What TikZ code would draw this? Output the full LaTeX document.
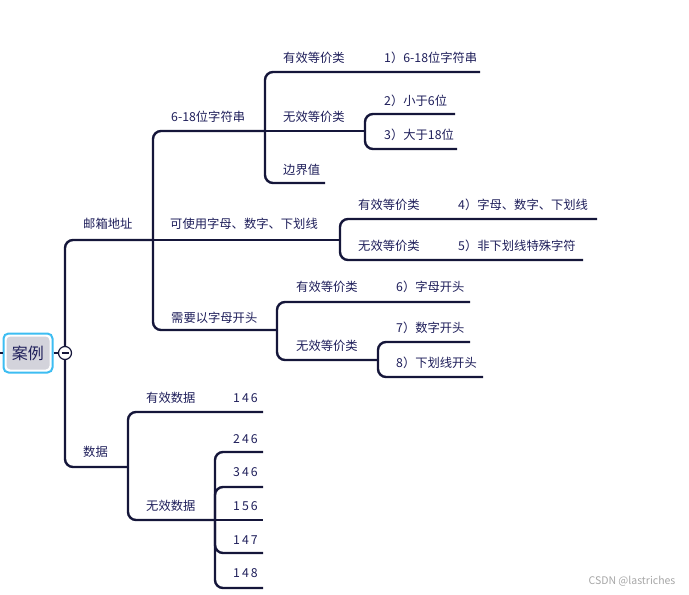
\documentclass[tikz,border=0pt]{standalone}
\usepackage{fontspec}
\setmainfont{Noto Sans CJK SC}
\definecolor{linec}{HTML}{15163A}
\definecolor{txtc}{HTML}{1E1E5A}
\definecolor{rootblue}{HTML}{3DBDF2}
\definecolor{rootgrey}{HTML}{D3D3DB}
\newcommand{\fsz}{\fontsize{12.3}{14}\selectfont}
\tikzset{
  br/.style={draw=linec, line width=2.4pt, rounded corners=8pt},
  lbl/.style={anchor=west, inner sep=0pt, text=txtc, font=\fsz},
}
\begin{document}
\begin{tikzpicture}[x=1pt,y=-1pt]
\useasboundingbox (0,0) rectangle (689,595);
% junction coordinates
\coordinate (J0) at (65,353);
\coordinate (E1) at (153,240);
\coordinate (E2) at (128,467);
\coordinate (A1) at (265,131);
\coordinate (A2) at (340,240);
\coordinate (A3) at (277,330);
\coordinate (B1) at (365,131);
\coordinate (B2) at (378,360);
\coordinate (B3) at (215,520);
% leaf ends
\coordinate (L1) at (480,72);
\coordinate (L2) at (455,114);
\coordinate (L3) at (457,149);
\coordinate (Lb) at (325,183);
\coordinate (L4) at (597,219);
\coordinate (L5) at (583,260);
\coordinate (L6) at (470,302);
\coordinate (L7) at (470,342);
\coordinate (L8) at (483,377);
\coordinate (D1) at (263,412);
\coordinate (D2) at (263,452);
\coordinate (D3) at (263,487);
\coordinate (D4) at (263,520);
\coordinate (D5) at (263,553);
\coordinate (D6) at (263,588);
% branches
\draw[br] (J0) |- (E1);
\draw[br] (J0) |- (E2);
\draw[br] (E1) |- (A1);
\draw[br] (E1) -- (A2);
\draw[br] (E1) |- (A3);
\draw[br] (A1) |- (L1);
\draw[br] (A1) -- (B1);
\draw[br] (A1) |- (Lb);
\draw[br] (B1) |- (L2);
\draw[br] (B1) |- (L3);
\draw[br] (A2) |- (L4);
\draw[br] (A2) |- (L5);
\draw[br] (A3) |- (L6);
\draw[br] (A3) |- (B2);
\draw[br] (B2) |- (L7);
\draw[br] (B2) |- (L8);
\draw[br] (E2) |- (D1);
\draw[br] (E2) |- (B3);
\draw[br] (B3) |- (D2);
\draw[br] (B3) |- (D3);
\draw[br] (B3) -- (D4);
\draw[br] (B3) |- (D5);
\draw[br] (B3) |- (D6);
% root
\node[draw=rootblue, line width=2pt, fill=white, rounded corners=5pt, minimum width=49pt, minimum height=39pt, inner sep=0pt] (rootout) at (28,353) {};
\node[fill=rootgrey, rounded corners=4pt, minimum width=43pt, minimum height=33pt, inner sep=0pt, text=txtc, font=\fontsize{16}{18}\selectfont] (root) at (28,353) {案例};
\coordinate (lt) at (0,353);
\draw[linec, line width=1.5pt] (lt) -- (rootout.west);
\node[circle, draw=linec, fill=white, line width=1.2pt, minimum size=13pt, inner sep=0pt] (fold) at (J0) {};
\draw[linec, line width=1.5pt] (rootout.east) -- (fold.west);
\draw[linec, line width=1.2pt] ([xshift=-3.5pt]fold.center) -- ([xshift=3.5pt]fold.center);
% labels
\node[lbl] (t1) at (83,224) {邮箱地址};
\node[lbl] (t2) at (171,117) {6-18位字符串};
\node[lbl] (t3) at (170,224) {可使用字母、数字、下划线};
\node[lbl] (t4) at (171,318) {需要以字母开头};
\node[lbl] (t5) at (283,58) {有效等价类};
\node[lbl] (t6) at (283,117) {无效等价类};
\node[lbl] (t7) at (283,170) {边界值};
\node[lbl] (t8) at (384,58) {1）6-18位字符串};
\node[lbl] (t9) at (384,101) {2）小于6位};
\node[lbl] (t10) at (384,135) {3）大于18位};
\node[lbl] (t11) at (358,205) {有效等价类};
\node[lbl] (t12) at (358,246) {无效等价类};
\node[lbl] (t13) at (458,205) {4）字母、数字、下划线};
\node[lbl] (t14) at (458,246) {5）非下划线特殊字符};
\node[lbl] (t15) at (296,287) {有效等价类};
\node[lbl] (t16) at (296,346) {无效等价类};
\node[lbl] (t17) at (396,287) {6）字母开头};
\node[lbl] (t18) at (396,328) {7）数字开头};
\node[lbl] (t19) at (396,363) {8）下划线开头};
\node[lbl] (t20) at (83,452) {数据};
\node[lbl] (t21) at (146,398) {有效数据};
\node[lbl] (t22) at (146,506) {无效数据};
\node[lbl] (n1) at (233,398) {1\,4\,6};
\node[lbl] (n2) at (233,439) {2\,4\,6};
\node[lbl] (n3) at (233,472) {3\,4\,6};
\node[lbl] (n4) at (233,506) {1\,5\,6};
\node[lbl] (n5) at (233,540) {1\,4\,7};
\node[lbl] (n6) at (233,573) {1\,4\,8};
\node[inner sep=0pt, text=black!35, font=\fontsize{10.5}{12}\selectfont] (wm) at (632,581) {CSDN @lastriches};
\end{tikzpicture}
\end{document}
